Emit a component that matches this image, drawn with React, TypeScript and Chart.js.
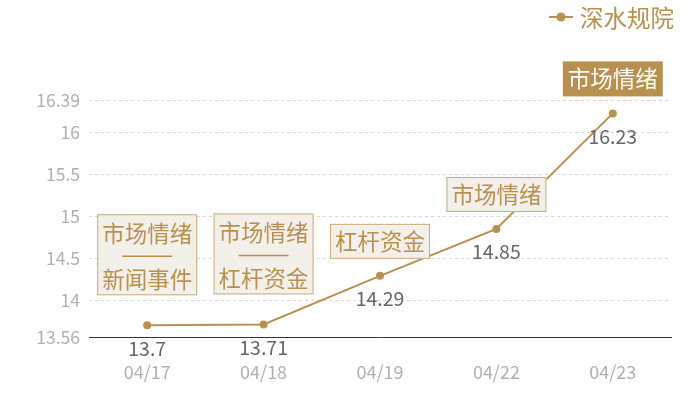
import { useEffect, useRef } from "react";
import { Chart, registerables, Plugin } from "chart.js";

Chart.register(...registerables);

const dates = ["04/17", "04/18", "04/19", "04/22", "04/23"];
const values = [13.7, 13.71, 14.29, 14.85, 16.23];
const tags: string[][] = [
    ["市场情绪", "新闻事件"],
    ["市场情绪", "杠杆资金"],
    ["杠杆资金"],
    ["市场情绪"],
    ["市场情绪"],
];
const yTicks = [13.56, 14, 14.5, 15, 15.5, 16, 16.39];
const seriesName = "深水规院";

const GOLD = "#b8904f";
const FONT = "'Noto Sans CJK SC', 'Noto Sans', sans-serif";

// draws the tag boxes, value labels and the legend
const overlay: Plugin<"line"> = {
    id: "overlay",
    afterDatasetsDraw(chart) {
        const ctx = chart.ctx;
        const meta = chart.getDatasetMeta(0);
        const maxIdx = values.indexOf(Math.max(...values));
        ctx.save();
        ctx.textAlign = "center";
        ctx.textBaseline = "middle";

        meta.data.forEach((pt, i) => {
            const { x, y } = pt.getProps(["x", "y"], true) as { x: number; y: number };

            // value label under the point
            ctx.font = `19.5px ${FONT}`;
            ctx.fillStyle = "#666";
            ctx.fillText(String(values[i]), x, y + 23);

            const lines = tags[i];
            const w = 100;
            const h = lines.length > 1 ? 81 : 35;
            const bottom = y - (lines.length > 1 ? 30 : 17);
            const top = bottom - h;
            const left = x - w / 2;
            const hi = i === maxIdx;

            ctx.fillStyle = hi ? GOLD : "#f3efe9";
            ctx.fillRect(left, top, w, h);
            if (!hi) {
                ctx.strokeStyle = "#cbab7c";
                ctx.lineWidth = 1;
                ctx.strokeRect(left + 0.5, top + 0.5, w - 1, h - 1);
            }
            ctx.font = `22.5px ${FONT}`;
            ctx.fillStyle = hi ? "#fff" : GOLD;
            if (lines.length > 1) {
                ctx.fillText(lines[0], x, top + 19);
                ctx.strokeStyle = GOLD;
                ctx.lineWidth = 1.5;
                ctx.beginPath();
                ctx.moveTo(x - 25, top + 42);
                ctx.lineTo(x + 25, top + 42);
                ctx.stroke();
                ctx.fillText(lines[1], x, top + 65);
            } else {
                ctx.fillText(lines[0], x, top + h / 2);
            }
        });

        // legend
        ctx.strokeStyle = GOLD;
        ctx.lineWidth = 2;
        ctx.beginPath();
        ctx.moveTo(549, 17);
        ctx.lineTo(573, 17);
        ctx.stroke();
        ctx.fillStyle = GOLD;
        ctx.beginPath();
        ctx.arc(561, 17, 4.5, 0, Math.PI * 2);
        ctx.fill();
        ctx.font = `23.5px ${FONT}`;
        ctx.textAlign = "left";
        ctx.fillText(seriesName, 580, 18);
        ctx.restore();
    },
};

function App() {
    const chartRef = useRef<HTMLCanvasElement | null>(null);

    useEffect(() => {
        const ctx = chartRef.current?.getContext("2d");
        if (!ctx) return;
        const chart = new Chart(ctx, {
            type: "line",
            data: {
                labels: dates,
                datasets: [{
                    label: seriesName,
                    data: values,
                    borderColor: GOLD,
                    backgroundColor: GOLD,
                    borderWidth: 2,
                    pointRadius: 4,
                    pointBackgroundColor: GOLD,
                    pointBorderWidth: 0,
                    tension: 0,
                }],
            },
            options: {
                animation: false,
                responsive: true,
                maintainAspectRatio: false,
                layout: { padding: { top: 100, right: 29, left: 0, bottom: 0 } },
                plugins: {
                    legend: { display: false },
                    tooltip: { enabled: false },
                },
                scales: {
                    x: {
                        offset: true,
                        grid: { display: false },
                        border: { display: true, color: "#333", width: 1 },
                        afterFit: (scale) => {
                            scale.height = 63;
                        },
                        ticks: {
                            color: "#b0b0b0",
                            font: { family: FONT, size: 18 },
                            padding: 16,
                        },
                    },
                    y: {
                        min: 13.56,
                        max: 16.39,
                        afterBuildTicks: (scale) => {
                            scale.ticks = yTicks.map((v) => ({ value: v }));
                        },
                        afterFit: (scale) => {
                            scale.width = 89;
                        },
                        border: { display: false, dash: [3, 3] },
                        grid: {
                            color: (c) => (c.tick && c.tick.value === 13.56 ? "rgba(0,0,0,0)" : "#d6d6d6"),
                            drawTicks: false,
                        },
                        ticks: {
                            color: "#b0b0b0",
                            font: { family: FONT, size: 17.5 },
                            padding: 9,
                            callback: (v) => String(v),
                        },
                    },
                },
            },
            plugins: [overlay],
        });
        return () => chart.destroy();
    }, []);

    return (
        <div style={{ position: "fixed", left: 0, top: 0, width: 700, height: 400, background: "#fff" }}>
            <canvas ref={chartRef}></canvas>
        </div>
    );
}

export default App;
